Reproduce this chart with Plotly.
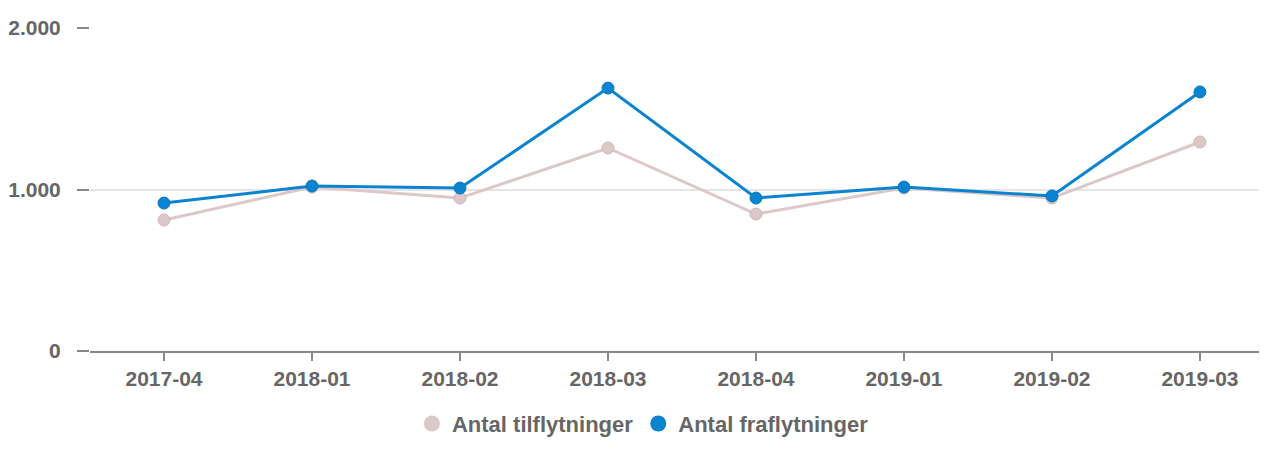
import plotly.graph_objects as go

categories = ["2017-04", "2018-01", "2018-02", "2018-03", "2018-04", "2019-01", "2019-02", "2019-03"]
tilflytninger = [811, 1015, 947, 1257, 848, 1009, 947, 1294]
fraflytninger = [916, 1022, 1009, 1628, 947, 1015, 960, 1604]
y_ticks = [0, 1000, 2000]
series_names = ["Antal tilflytninger", "Antal fraflytninger"]
series_colors = ["#DCC8C8", "#0A84D0"]
series_edges = ["#CDB8B8", "#0877BD"]

font_family = "Liberation Sans, Arial, sans-serif"
text_color = "#666666"

fig = go.Figure()
for vals, name, col, edge in zip([tilflytninger, fraflytninger], series_names,
                                 series_colors, series_edges):
    fig.add_trace(go.Scatter(
        x=categories, y=vals, name=name, mode="lines+markers",
        line=dict(color=col, width=3),
        marker=dict(color=col, size=12, line=dict(color=edge, width=1)),
        cliponaxis=False, showlegend=False,
    ))
# legend entries (circle symbols only)
for name, col in zip(series_names, series_colors):
    fig.add_trace(go.Scatter(
        x=[None], y=[None], name=name, mode="markers",
        marker=dict(color=col, size=17), showlegend=True,
    ))

fig.update_layout(
    width=1251, height=435,
    margin=dict(l=82, r=0, t=20, b=92, autoexpand=False),
    paper_bgcolor="white", plot_bgcolor="white",
    separators=",.",
    font=dict(family=font_family, color=text_color, size=21),
    legend=dict(
        orientation="h", x=0.473, xanchor="center", y=-0.29, yanchor="bottom",
        font=dict(family=font_family, size=22, color=text_color, weight="bold"),
        itemwidth=30, tracegroupgap=0,
    ),
    xaxis=dict(
        type="category", range=[-0.5, 7.399],
        showgrid=False, showline=True, linecolor="#888888", linewidth=2,
        ticks="outside", ticklen=8, tickcolor="#888888", tickwidth=2,
        tickfont=dict(family=font_family, size=21, color=text_color, weight="bold"),
        zeroline=False,
    ),
    yaxis=dict(
        range=[0, 2000], tickvals=y_ticks, tickformat=",d",
        showgrid=True, gridcolor="#E6E6E6", gridwidth=1.5,
        showline=False, zeroline=False,
        ticks="outside", ticklen=12, tickcolor="#888888", tickwidth=2,
        ticklabelstandoff=12,
        tickfont=dict(family=font_family, size=21, color=text_color, weight="bold"),
    ),
)

fig.write_html("out.html")
